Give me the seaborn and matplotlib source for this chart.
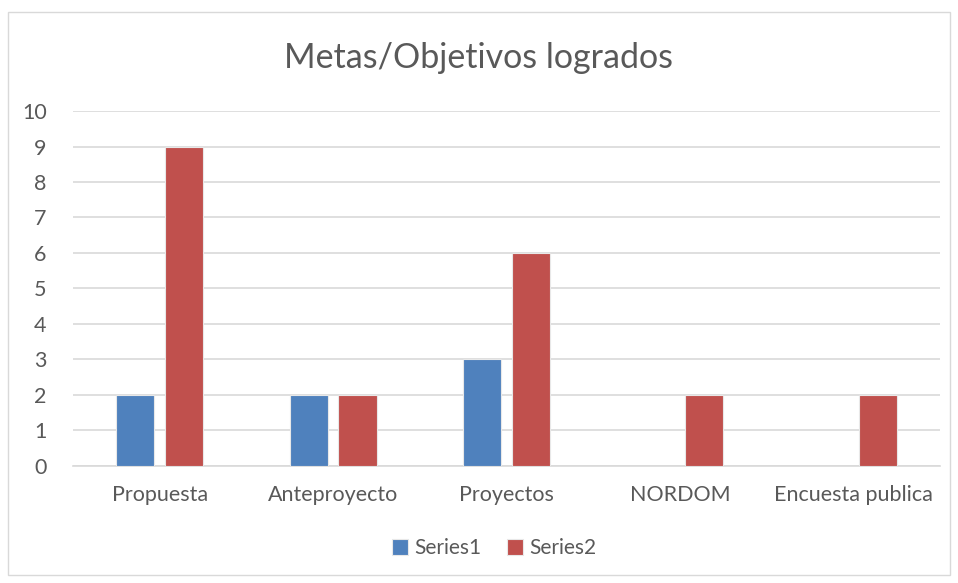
import pandas as pd
import matplotlib.pyplot as plt
import seaborn as sns
from matplotlib.patches import Rectangle

categories = ["Propuesta", "Anteproyecto", "Proyectos", "NORDOM", "Encuesta publica"]
series1 = [2, 2, 3, 0, 0]
series2 = [9, 2, 6, 2, 2]
series_names = ["Series1", "Series2"]
yticks = list(range(0, 11))

df = pd.DataFrame({
    "categoria": categories * 2,
    "valor": series1 + series2,
    "serie": [series_names[0]] * len(categories) + [series_names[1]] * len(categories),
})

sns.set_theme(style="white")
plt.rcParams["font.family"] = ["Lato", "DejaVu Sans"]
text_col = "#595959"
grid_col = "#D9D9D9"

fig = plt.figure(figsize=(9.58, 5.83), dpi=100)
ax = fig.add_axes([0.0762, 0.2007, 0.905, 0.6089])

sns.barplot(data=df, x="categoria", y="valor", hue="serie", order=categories,
            palette=["#4F81BD", "#C0504D"], saturation=1, width=0.565, gap=0.22,
            edgecolor="#E8E8E8", linewidth=0.8, ax=ax, zorder=3)

ax.set_ylim(0, 10)
ax.set_yticks(yticks)
ax.set_xlim(-0.5, len(categories) - 0.5)
ax.yaxis.grid(True, color=grid_col, linewidth=1.2, zorder=0)
ax.set_axisbelow(True)
for s in ["top", "right", "left"]:
    ax.spines[s].set_visible(False)
ax.spines["bottom"].set_color(grid_col)
ax.spines["bottom"].set_linewidth(1.2)
ax.tick_params(axis="both", length=0, colors=text_col, labelsize=15.5)
ax.tick_params(axis="x", pad=14)
ax.tick_params(axis="y", pad=19)
ax.set_xlabel("")
ax.set_ylabel("")

fig.text(0.5, 0.9, "Metas/Objetivos logrados", ha="center", va="center",
         fontsize=24.5, color=text_col)

ax.legend(loc="center", bbox_to_anchor=(0.516, 0.06), bbox_transform=fig.transFigure,
          ncol=2, frameon=False, fontsize=15, labelcolor=text_col,
          handlelength=0.8, handleheight=0.8, handletextpad=0.3, columnspacing=1.2)

fig.patches.append(Rectangle((0.008, 0.014), 0.984, 0.966, transform=fig.transFigure,
                             fill=False, edgecolor=grid_col, linewidth=1))

fig.savefig("out.png", dpi=100)
